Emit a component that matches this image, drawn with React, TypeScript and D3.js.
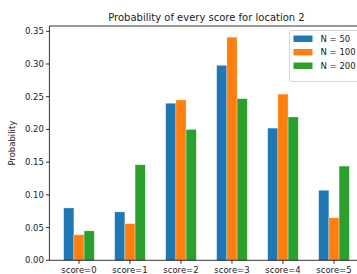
import { useEffect, useRef } from 'react';
import * as d3 from 'd3';

const categories = ['score=0', 'score=1', 'score=2', 'score=3', 'score=4', 'score=5'];
const seriesNames = ['N = 50', 'N = 100', 'N = 200'];
const n50 = [0.080, 0.074, 0.240, 0.298, 0.202, 0.107];
const n100 = [0.039, 0.056, 0.245, 0.341, 0.254, 0.065];
const n200 = [0.045, 0.146, 0.200, 0.247, 0.219, 0.144];
const yTicks = [0, 0.05, 0.1, 0.15, 0.2, 0.25, 0.3, 0.35];
const colors = ['#1f77b4', '#ff7f0e', '#2ca02c'];

const W = 357;
const H = 274;

const App = () => {
  const svgRef = useRef<SVGSVGElement>(null);

  useEffect(() => {
    document.body.style.margin = '0';
    const svg = d3.select(svgRef.current);
    svg.selectAll('*').remove();

    const series = [n50, n100, n200];
    const barW = 0.2;
    const left = 49.4, top = 26, bottom = 260.3;
    const xMin = -0.3 - 0.28, xMax = 5.3 + 0.28;
    const x = d3.scaleLinear().domain([xMin, xMax]).range([left, left + (xMax - xMin) * 51]);
    const yMax = d3.max(series.flat())! * 1.05;
    const y = d3.scaleLinear().domain([0, yMax]).range([bottom, top]);
    const font = 'DejaVu Sans, sans-serif';

    // bars
    series.forEach((vals, si) => {
      svg.append('g')
        .selectAll('rect')
        .data(vals)
        .join('rect')
        .attr('x', (_, i) => x(i + (si - 1) * barW - barW / 2))
        .attr('width', x(barW) - x(0))
        .attr('y', d => y(d))
        .attr('height', d => y(0) - y(d))
        .attr('fill', colors[si])
        .attr('stroke', 'white')
        .attr('stroke-opacity', 0.5)
        .attr('stroke-width', 0.6);
    });

    // spines
    const sp = svg.append('g').attr('stroke', '#000').attr('stroke-width', 0.8).attr('fill', 'none');
    sp.append('line').attr('x1', left).attr('x2', left).attr('y1', top).attr('y2', bottom);
    sp.append('line').attr('x1', left).attr('x2', x(xMax)).attr('y1', top).attr('y2', top);
    sp.append('line').attr('x1', left).attr('x2', x(xMax)).attr('y1', bottom).attr('y2', bottom);
    sp.append('line').attr('x1', x(xMax)).attr('x2', x(xMax)).attr('y1', top).attr('y2', bottom);

    // y axis
    const ya = svg.append('g');
    yTicks.forEach(t => {
      ya.append('line').attr('x1', left - 3.5).attr('x2', left).attr('y1', y(t)).attr('y2', y(t))
        .attr('stroke', '#000').attr('stroke-width', 0.8);
      ya.append('text').attr('x', left - 5.5).attr('y', y(t)).attr('dy', '0.35em')
        .attr('text-anchor', 'end').attr('font-family', font).attr('font-size', 8.5)
        .attr('fill', '#222').text(t.toFixed(2));
    });

    // x axis
    const xa = svg.append('g');
    categories.forEach((c, i) => {
      xa.append('line').attr('x1', x(i)).attr('x2', x(i)).attr('y1', bottom).attr('y2', bottom + 3.5)
        .attr('stroke', '#000').attr('stroke-width', 0.8);
      xa.append('text').attr('x', x(i)).attr('y', bottom + 13)
        .attr('text-anchor', 'middle').attr('font-family', font).attr('font-size', 8.5)
        .attr('fill', '#222').text(c);
    });

    // y label
    svg.append('text').attr('transform', `translate(15,${(top + bottom) / 2}) rotate(-90)`)
      .attr('text-anchor', 'middle').attr('font-family', font).attr('font-size', 8.5)
      .attr('fill', '#222').text('Probability');

    // title
    svg.append('text').attr('x', (left + x(xMax)) / 2).attr('y', 21)
      .attr('text-anchor', 'middle').attr('font-family', font).attr('font-size', 10)
      .attr('fill', '#222').text('Probability of every score for location 2');

    // legend
    const lg = svg.append('g').attr('transform', 'translate(289.5,30.5)');
    lg.append('rect').attr('width', 70).attr('height', 51).attr('rx', 2)
      .attr('fill', 'white').attr('fill-opacity', 0.8).attr('stroke', '#ccc').attr('stroke-width', 0.8);
    seriesNames.forEach((s, i) => {
      lg.append('rect').attr('x', 4).attr('y', 5 + i * 13.5).attr('width', 19).attr('height', 6.5)
        .attr('fill', colors[i]);
      lg.append('text').attr('x', 31).attr('y', 8.3 + i * 13.5).attr('dy', '0.35em')
        .attr('font-family', font).attr('font-size', 8.5).attr('fill', '#222').text(s);
    });
  }, []);

  return <svg ref={svgRef} width={W} height={H} style={{ display: 'block' }} />;
};

export default App;
